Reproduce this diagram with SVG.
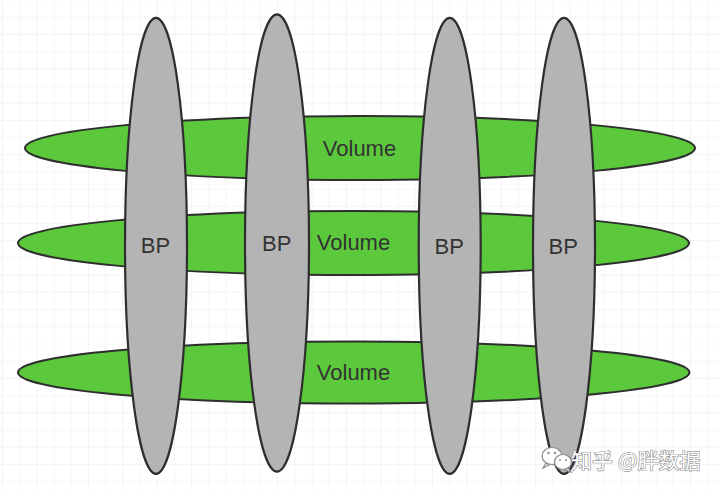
<svg xmlns="http://www.w3.org/2000/svg" width="720" height="491" viewBox="0 0 720 491">
<defs>
<pattern id="grid" x="2" y="-0.5" width="17.2" height="17.2" patternUnits="userSpaceOnUse">
<path d="M0 0 H17.2 M0 0 V17.2" fill="none" stroke="#e9e9e9" stroke-width="1"/>
</pattern>
<style>
.vol{fill:#5cc83c;stroke:#2e2e2e;stroke-width:2}
.bp{fill:#b4b4b4;stroke:#2e2e2e;stroke-width:2.2}
.lbl{font-family:"Liberation Sans",Arial,sans-serif;font-size:22px;fill:#333;text-anchor:middle}
.wm{font-family:"Noto Sans CJK SC","Liberation Sans",sans-serif;font-size:21px;fill:#fff;stroke:#8a8a8a;stroke-width:1.2;paint-order:stroke}
</style>
</defs>
<rect width="720" height="491" fill="#fff"/>
<rect width="720" height="491" fill="url(#grid)"/>
<g id="volumes">
<g id="volume1"><ellipse class="vol" cx="360" cy="148" rx="335" ry="32"/></g>
<g id="volume2"><ellipse class="vol" cx="353.5" cy="243" rx="335.5" ry="32"/></g>
<g id="volume3"><ellipse class="vol" cx="353.7" cy="372.5" rx="335.7" ry="31"/></g>
</g>
<g id="bps">
<g id="bp1"><ellipse class="bp" cx="156" cy="245.8" rx="31" ry="228"/></g>
<g id="bp2"><ellipse class="bp" cx="277" cy="243" rx="32" ry="228.7"/></g>
<g id="bp3"><ellipse class="bp" cx="449.7" cy="245.8" rx="31" ry="228"/></g>
<g id="bp4"><ellipse class="bp" cx="564" cy="245.8" rx="31" ry="228"/></g>
</g>
<g id="connectors"></g>
<g id="labels">
<text class="lbl" x="359.5" y="155.5">Volume</text>
<text class="lbl" x="353.5" y="250">Volume</text>
<text class="lbl" x="353.5" y="380">Volume</text>
<text class="lbl" x="155.5" y="253">BP</text>
<text class="lbl" x="276.7" y="250.5">BP</text>
<text class="lbl" x="449.3" y="254">BP</text>
<text class="lbl" x="563.3" y="254">BP</text>
</g>
<g id="watermark">
<g fill="#fff" stroke="#8a8a8a" stroke-width="1.2">
<ellipse cx="552" cy="456" rx="10" ry="8.5"/>
<path d="M546 463 l-3 5 l6 -3 z"/>
<ellipse cx="563" cy="462" rx="8.5" ry="7.5"/>
<path d="M568 468 l3 4 l-6 -2 z"/>
</g>
<g fill="#8a8a8a">
<circle cx="548.5" cy="453" r="1.2"/><circle cx="555" cy="453" r="1.2"/>
<circle cx="560" cy="460" r="1"/><circle cx="566" cy="460" r="1"/>
</g>
<text class="wm" x="571" y="468">知乎 @胖数据</text>
</g>
</svg>
